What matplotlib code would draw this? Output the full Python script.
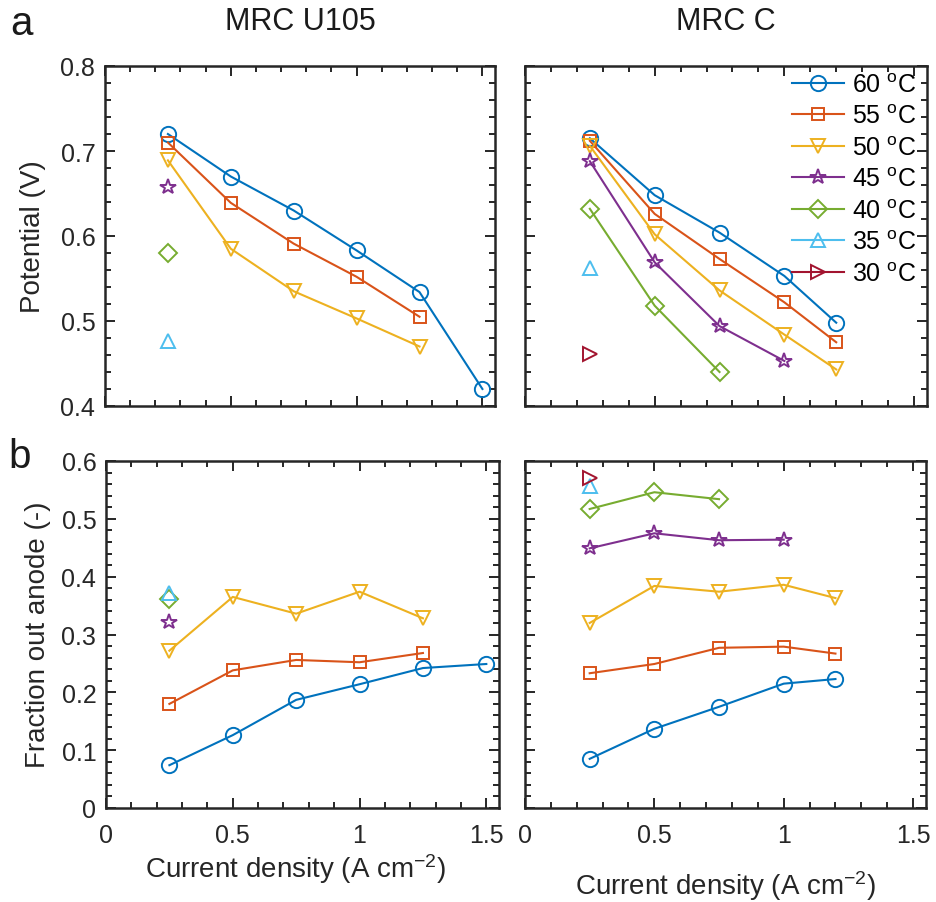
import numpy as np
import matplotlib
matplotlib.use("Agg")
import matplotlib.pyplot as plt
from matplotlib.ticker import MultipleLocator

plt.rcParams["font.family"] = ["Liberation Sans", "DejaVu Sans"]
plt.rcParams["mathtext.default"] = "regular"

# temperatures and MATLAB default line colours / markers
temps = [60, 55, 50, 45, 40, 35, 30]
colors = ["#0072BD", "#D95319", "#EDB120", "#7E2F8E", "#77AC30", "#4DBEEE", "#A2142F"]
markers = ["o", "s", "v", "*", "D", "^", ">"]
msizes = [11, 8.5, 10, 11.5, 9, 10, 10]

# MRC U105 polarisation (current density in A cm-2, potential in V)
u105_j = {
    60: [0.25, 0.5, 0.75, 1.0, 1.25, 1.5],
    55: [0.25, 0.5, 0.75, 1.0, 1.25],
    50: [0.25, 0.5, 0.75, 1.0, 1.25],
    45: [0.25],
    40: [0.25],
    35: [0.25],
}
u105_v = {
    60: [0.720, 0.670, 0.630, 0.583, 0.534, 0.420],
    55: [0.710, 0.639, 0.591, 0.552, 0.505],
    50: [0.689, 0.585, 0.535, 0.503, 0.470],
    45: [0.658],
    40: [0.580],
    35: [0.476],
}
u105_frac = {
    60: [0.074, 0.126, 0.187, 0.214, 0.242, 0.249],
    55: [0.180, 0.238, 0.256, 0.252, 0.268],
    50: [0.272, 0.365, 0.336, 0.374, 0.328],
    45: [0.322],
    40: [0.362],
    35: [0.371],
}

# MRC C
mrcc_j = {
    60: [0.25, 0.5, 0.75, 1.0, 1.2],
    55: [0.25, 0.5, 0.75, 1.0, 1.2],
    50: [0.25, 0.5, 0.75, 1.0, 1.2],
    45: [0.25, 0.5, 0.75, 1.0],
    40: [0.25, 0.5, 0.75],
    35: [0.25],
    30: [0.25],
}
mrcc_v = {
    60: [0.715, 0.648, 0.604, 0.553, 0.498],
    55: [0.712, 0.626, 0.573, 0.522, 0.475],
    50: [0.706, 0.602, 0.536, 0.484, 0.443],
    45: [0.688, 0.569, 0.494, 0.453],
    40: [0.632, 0.518, 0.440],
    35: [0.562],
    30: [0.461],
}
mrcc_frac = {
    60: [0.085, 0.137, 0.175, 0.215, 0.223],
    55: [0.233, 0.249, 0.277, 0.279, 0.267],
    50: [0.320, 0.384, 0.374, 0.386, 0.363],
    45: [0.449, 0.475, 0.463, 0.464],
    40: [0.517, 0.546, 0.534],
    35: [0.557],
    30: [0.570],
}

xticks = [0, 0.5, 1, 1.5]
xticklabels = ["0", "0.5", "1", "1.5"]
vticks = [0.4, 0.5, 0.6, 0.7, 0.8]
vticklabels = ["0.4", "0.5", "0.6", "0.7", "0.8"]
fticks = [0, 0.1, 0.2, 0.3, 0.4, 0.5, 0.6]
fticklabels = ["0", "0.1", "0.2", "0.3", "0.4", "0.5", "0.6"]

W, H = 936, 903
fig = plt.figure(figsize=(W / 100, H / 100), dpi=100)


def box(l, t, r, b):
    return [l / W, 1 - b / H, (r - l) / W, (b - t) / H]


ax_a1 = fig.add_axes(box(105, 67, 495, 407))
ax_a2 = fig.add_axes(box(525, 67, 927, 407))
ax_b1 = fig.add_axes(box(106, 462, 499, 809))
ax_b2 = fig.add_axes(box(525, 462, 926, 809))


def draw(ax, xs, ys):
    for T, c, m, s in zip(temps, colors, markers, msizes):
        if T not in xs:
            continue
        ax.plot(xs[T], ys[T], color=c, marker=m, ms=s, mfc="none", mec=c,
                mew=1.4, lw=1.5, label=f"{T} $^{{o}}$C")


def style(ax, yticks, ylabels, ylim, yminor, show_x, show_y):
    ax.set_xlim(0, 1.55)
    ax.set_ylim(*ylim)
    ax.set_xticks(xticks)
    ax.set_yticks(yticks)
    ax.xaxis.set_minor_locator(MultipleLocator(0.1))
    ax.yaxis.set_minor_locator(MultipleLocator(yminor))
    ax.set_xticklabels(xticklabels if show_x else [])
    ax.set_yticklabels(ylabels if show_y else [])
    ax.tick_params(which="both", direction="in", top=True, right=True,
                   color="#262626", width=1.4, labelsize=18, labelcolor="#262626")
    ax.tick_params(which="major", length=7)
    ax.tick_params(which="minor", length=4)
    ax.tick_params(axis="x", pad=11)
    ax.tick_params(axis="y", pad=7)
    for sp in ax.spines.values():
        sp.set_linewidth(1.8)
        sp.set_color("#262626")


draw(ax_a1, u105_j, u105_v)
draw(ax_a2, mrcc_j, mrcc_v)
draw(ax_b1, u105_j, u105_frac)
draw(ax_b2, mrcc_j, mrcc_frac)

style(ax_a1, vticks, vticklabels, (0.4, 0.8), 0.02, False, True)
style(ax_a2, vticks, vticklabels, (0.4, 0.8), 0.02, False, False)
style(ax_b1, fticks, fticklabels, (0, 0.6), 0.02, True, True)
style(ax_b2, fticks, fticklabels, (0, 0.6), 0.02, True, False)

ax_a2.legend(loc="upper right", bbox_to_anchor=(0.985, 0.995), frameon=False,
             fontsize=18, handlelength=2.1, handletextpad=0.3, labelspacing=0.3,
             borderaxespad=0.0, borderpad=0.2)

txt = dict(color="#1a1a1a")
fig.text(300 / W, 1 - 30 / H, "MRC U105", fontsize=22, ha="center", va="baseline", **txt)
fig.text(726 / W, 1 - 30 / H, "MRC C", fontsize=22, ha="center", va="baseline", **txt)
fig.text(10 / W, 1 - 35 / H, "a", fontsize=29, ha="left", va="baseline", **txt)
fig.text(8 / W, 1 - 468 / H, "b", fontsize=29, ha="left", va="baseline", **txt)

lab = dict(fontsize=20, color="#262626")
fig.text(33 / W, 1 - 237 / H, "Potential (V)", rotation=90, ha="center", va="center", **lab)
fig.text(38 / W, 1 - 635 / H, "Fraction out anode (-)", rotation=90, ha="center", va="center", **lab)
fig.text(296 / W, 1 - 878 / H, "Current density (A cm$^{-2}$)", ha="center", va="baseline", **lab)
fig.text(726 / W, 1 - 895 / H, "Current density (A cm$^{-2}$)", ha="center", va="baseline", **lab)

fig.savefig("out.png", dpi=100, facecolor="white")
